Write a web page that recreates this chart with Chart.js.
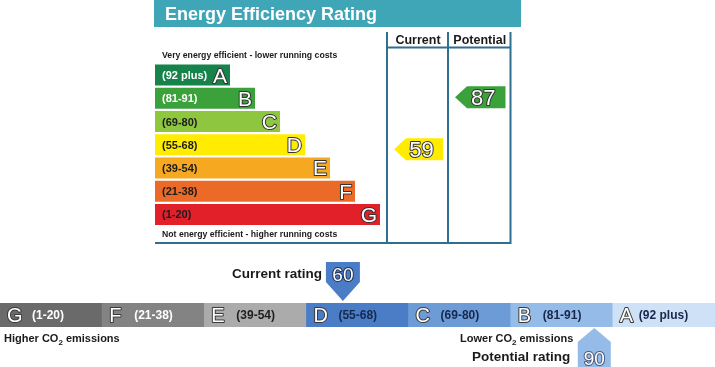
<!DOCTYPE html>
<html><head><meta charset="utf-8">
<script src="https://cdn.jsdelivr.net/npm/chart.js@4"></script>
<style>
html,body{margin:0;padding:0;background:#fff;}
#wrap{position:relative;width:715px;height:367px;overflow:hidden;background:#fff;}
#top{position:absolute;left:154px;top:0;}
#bottom{position:absolute;left:0;top:250px;}
</style></head><body>
<div id="wrap">
<canvas id="top" width="367" height="246"></canvas>
<canvas id="bottom" width="715" height="117"></canvas>
</div>
<script>
// ---------- data ----------
const bands = ['A','B','C','D','E','F','G'];
const bandRanges = ['(92 plus)','(81-91)','(69-80)','(55-68)','(39-54)','(21-38)','(1-20)'];
const bandLow = [92,81,69,55,39,21,1];
const bandHigh = [100,91,80,68,54,38,20];
const barLength = [3,4,5,6,7,8,9];
const currentEfficiency = 59;
const potentialEfficiency = 87;
const columnLabels = ['Current','Potential'];

const co2Bands = ['G','F','E','D','C','B','A'];
const co2Ranges = ['(1-20)','(21-38)','(39-54)','(55-68)','(69-80)','(81-91)','(92 plus)'];
const co2Low = [1,21,39,55,69,81,92];
const co2High = [20,38,54,68,80,91,100];
const co2Span = [1,1,1,1,1,1,1];
const currentCO2 = 60;
const potentialCO2 = 90;

// ---------- styles ----------
const FONT = "'Liberation Sans', Arial, sans-serif";
const bandColors = ['#16844a','#3ba23b','#8ec63f','#ffec00','#f6a821','#ec6a27','#e2202a'];
const bandTextColors = ['#fff','#fff','#1c1c1c','#1c1c1c','#1c1c1c','#1c1c1c','#1c1c1c'];
const co2Colors = ['#6a6a6a','#838383','#ababab','#4a7dc6','#6c9bd6','#95bbe8','#cfe1f6'];
const co2TextColors = ['#fff','#fff','#1e1e1e','#16284c','#16284c','#16284c','#16284c'];
const frameColor = '#2f6f8f';
const titleColor = '#3fa6b8';

function bandIndex(v, lo, hi){ for(let i=0;i<lo.length;i++){ if(v>=lo[i] && v<=hi[i]) return i; } return 0; }
function frac(v, lo, hi){ return (v - lo)/(hi - lo + 1); }
function outlined(ctx, txt, x, y, size, stroke){
  ctx.font = size + 'px ' + FONT;
  ctx.lineJoin = 'round';
  ctx.lineWidth = 2;
  ctx.strokeStyle = stroke || '#333';
  ctx.strokeText(txt, x, y);
  ctx.fillStyle = '#fff';
  ctx.fillText(txt, x, y);
}
function co2Text(ctx, pre, post, x, y, align){
  const big = 'bold 11px ' + FONT, small = 'bold 8px ' + FONT;
  ctx.font = big; const w1 = ctx.measureText(pre).width, w3 = ctx.measureText(post).width;
  ctx.font = small; const w2 = ctx.measureText('2').width;
  let sx = align === 'right' ? x - (w1+w2+w3) : x;
  ctx.textAlign = 'left'; ctx.fillStyle = '#1a1a1a';
  ctx.font = big; ctx.fillText(pre, sx, y);
  ctx.font = small; ctx.fillText('2', sx + w1, y + 3);
  ctx.font = big; ctx.fillText(post, sx + w1 + w2, y);
}

// ---------- top chart ----------
const topPlugin = {
  id:'topDecor',
  beforeDraw(chart){
    const ctx = chart.ctx, ca = chart.chartArea, xs = chart.scales.x;
    const o = chart.options.plugins.topDecor;
    ctx.save();
    ctx.fillStyle = titleColor;
    ctx.fillRect(0, 0, chart.width, 27);
    ctx.fillStyle = '#fff';
    ctx.font = 'bold 18px ' + FONT;
    ctx.textBaseline = 'alphabetic';
    ctx.fillText('Energy Efficiency Rating', 11, 20);
    // frame
    ctx.strokeStyle = frameColor; ctx.lineWidth = 2;
    const cols = o.columns.map(v => xs.getPixelForValue(v));
    ctx.beginPath();
    cols.forEach(px => { ctx.moveTo(px, 32); ctx.lineTo(px, 244); });
    ctx.moveTo(cols[0], 47.5); ctx.lineTo(cols[cols.length-1]+1, 47.5);
    ctx.moveTo(ca.left, 243); ctx.lineTo(cols[cols.length-1]+1, 243);
    ctx.stroke();
    ctx.fillStyle = '#1a1a1a';
    ctx.font = 'bold 12.5px ' + FONT; ctx.textAlign = 'center';
    columnLabels.forEach((t,i) => ctx.fillText(t, (cols[i]+cols[i+1])/2 + 0.5, 44));
    ctx.textAlign = 'left';
    ctx.font = 'bold 8.7px ' + FONT;
    ctx.fillText('Very energy efficient - lower running costs', ca.left + 7, 58);
    ctx.fillText('Not energy efficient - higher running costs', ca.left + 7, 237);
    ctx.restore();
  },
  afterDatasetsDraw(chart){
    const ctx = chart.ctx, xs = chart.scales.x;
    const o = chart.options.plugins.topDecor;
    const meta = chart.getDatasetMeta(0).data;
    ctx.save();
    meta.forEach((bar, i) => {
      ctx.textAlign = 'left';
      ctx.fillStyle = bandTextColors[i];
      ctx.font = 'bold 11px ' + FONT;
      ctx.fillText(bandRanges[i], bar.base + 7, bar.y + 4);
      ctx.textAlign = 'right';
      outlined(ctx, bands[i], bar.x - 3, bar.y + 7.5, 21, '#333');
    });
    const cols = o.columns.map(v => xs.getPixelForValue(v));
    [[currentEfficiency, 0], [potentialEfficiency, 1]].forEach(([v, c]) => {
      const i = bandIndex(v, bandLow, bandHigh);
      const bar = meta[i];
      const bottom = bar.y + bar.height/2;
      const cy = bottom - frac(v, bandLow[i], bandHigh[i]) * bar.height;
      const h = bar.height + 1;
      const tip = cols[c] + 7, right = cols[c+1] - 5, depth = 12;
      ctx.fillStyle = bandColors[i];
      ctx.beginPath();
      ctx.moveTo(tip, cy);
      ctx.lineTo(tip + depth, cy - h/2);
      ctx.lineTo(right, cy - h/2);
      ctx.lineTo(right, cy + h/2);
      ctx.lineTo(tip + depth, cy + h/2);
      ctx.closePath(); ctx.fill();
      ctx.textAlign = 'center';
      outlined(ctx, String(v), (tip + right)/2 + 3, cy + 8, 22, '#333');
    });
    ctx.restore();
  }
};

new Chart(document.getElementById('top'), {
  type:'bar',
  data:{ labels: bands, datasets:[{ data: barLength, backgroundColor: bandColors, borderWidth:0, barPercentage:0.9, categoryPercentage:1 }]},
  options:{
    responsive:false, animation:false, devicePixelRatio:1, indexAxis:'y',
    layout:{ padding:{ left:1, right:10.5, top:63.4, bottom:19.9 } },
    scales:{ x:{ display:false, min:0, max:14.22 }, y:{ display:false } },
    plugins:{ legend:{display:false}, tooltip:{enabled:false}, topDecor:{ columns:[9.28, 11.72, 14.22] } }
  },
  plugins:[topPlugin]
});

// ---------- bottom chart ----------
const bottomPlugin = {
  id:'bottomDecor',
  afterDatasetsDraw(chart){
    const ctx = chart.ctx, ca = chart.chartArea;
    const meta = chart.getDatasetMeta(0).data;
    const cy = (ca.top + ca.bottom)/2;
    ctx.save();
    meta.forEach((bar, i) => {
      const left = bar.x - bar.width/2;
      ctx.textAlign = 'left';
      outlined(ctx, co2Bands[i], left + 7, cy + 7, 20, '#3a3a3a');
      ctx.fillStyle = co2TextColors[i];
      ctx.font = 'bold 12px ' + FONT;
      ctx.fillText(co2Ranges[i], left + (co2Bands[i] === 'A' ? 26 : 32), cy + 4);
    });
    const posX = v => { const i = bandIndex(v, co2Low, co2High); const b = meta[i];
      return { i, x: b.x - b.width/2 + frac(v, co2Low[i], co2High[i]) * b.width }; };
    // current marker (above, pointing down)
    let m = posX(currentCO2);
    let tip = ca.top - 2, sh = tip - 19, top = sh - 20, hw = 17;
    ctx.fillStyle = co2Colors[m.i];
    ctx.beginPath();
    ctx.moveTo(m.x - hw, top); ctx.lineTo(m.x + hw, top); ctx.lineTo(m.x + hw, sh);
    ctx.lineTo(m.x, tip); ctx.lineTo(m.x - hw, sh); ctx.closePath(); ctx.fill();
    ctx.textAlign = 'center';
    outlined(ctx, String(currentCO2), m.x, sh - 1, 19, '#1e2f55');
    ctx.textAlign = 'right'; ctx.fillStyle = '#1a1a1a';
    ctx.font = 'bold 13.5px ' + FONT;
    ctx.fillText('Current rating', m.x - 21, 28);
    // potential marker (below, pointing up)
    m = posX(potentialCO2);
    tip = ca.bottom + 1; sh = tip + 14; hw = 16.5;
    ctx.fillStyle = co2Colors[m.i];
    ctx.beginPath();
    ctx.moveTo(m.x, tip); ctx.lineTo(m.x + hw, sh); ctx.lineTo(m.x + hw, chart.height + 2);
    ctx.lineTo(m.x - hw, chart.height + 2); ctx.lineTo(m.x - hw, sh); ctx.closePath(); ctx.fill();
    ctx.textAlign = 'center';
    outlined(ctx, String(potentialCO2), m.x, 115, 19, '#4a5a7a');
    ctx.textAlign = 'right'; ctx.fillStyle = '#1a1a1a';
    ctx.font = 'bold 13.5px ' + FONT;
    ctx.fillText('Potential rating', m.x - 24, 111);
    co2Text(ctx, 'Lower CO', ' emissions', m.x - 21, 92, 'right');
    co2Text(ctx, 'Higher CO', ' emissions', 4, 92, 'left');
    ctx.restore();
  }
};

new Chart(document.getElementById('bottom'), {
  type:'bar',
  data:{ labels: co2Bands, datasets:[{ data: co2Span, backgroundColor: co2Colors, borderWidth:0, barPercentage:1, categoryPercentage:1 }]},
  options:{
    responsive:false, animation:false, devicePixelRatio:1,
    layout:{ padding:{ left:0, right:0, top:53, bottom:40 } },
    scales:{ x:{ display:false }, y:{ display:false, min:0, max:1 } },
    plugins:{ legend:{display:false}, tooltip:{enabled:false} }
  },
  plugins:[bottomPlugin]
});
</script>
</body></html>
